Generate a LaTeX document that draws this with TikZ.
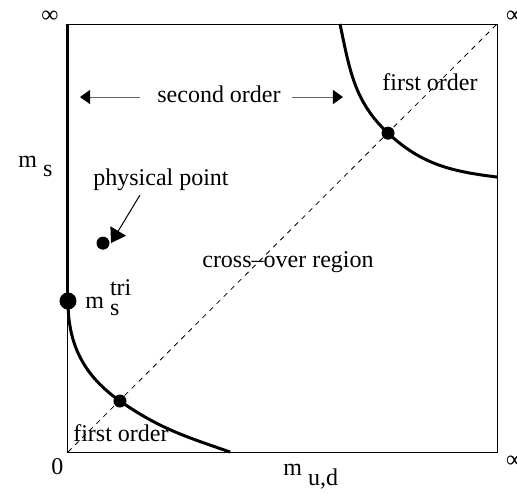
\documentclass[tikz,border=0pt]{standalone}
\usepackage{fontspec}
\setmainfont{Liberation Serif}
\usetikzlibrary{
  arrows.meta,
  positioning
}
\tikzset{
  txt/.style={
    font=\fontsize{12}{14}\selectfont,
    inner sep=0pt
  },
  bigdot/.style={
    circle,
    fill=black,
    inner sep=0pt,
    minimum size=8.5pt
  },
  dot/.style={
    circle,
    fill=black,
    inner sep=0pt,
    minimum size=6.5pt
  },
  boundary/.style={
    line width=1.5pt
  },
  frame/.style={
    line width=0.5pt
  },
  diag/.style={
    line width=0.4pt,
    dash pattern=on 2.5pt off 2.5pt
  },
  pointer/.style={
    -{Triangle[length=5pt,width=7pt,black]},
    line width=0.5pt,
    draw=black!60
  },
  bigpointer/.style={
    -{Triangle[length=7pt,width=9pt]},
    line width=0.5pt
  }
}

\begin{document}
\begin{tikzpicture}[x=214.5pt,y=214pt]
\useasboundingbox (-0.1585,-0.0958) rectangle (1.0466,1.0561);
\clip (-0.1585,-0.0958) rectangle (1.0466,1.0561);

\coordinate (O) at (0,0);
\coordinate (C) at (1,1);
\coordinate (lowEnd) at (0.378,0);
\coordinate (upStart) at (0.634,1);
\coordinate (upEnd) at (1,0.6425);

% frame and diagonal
\draw[frame] (O) rectangle (C);
\draw[diag] (O) -- (C);

% dots
\node[bigdot] (tri) at (0,0.3528) {};
\node[dot] (lowX) at (0.1212,0.1192) {};
\node[dot] (upX) at (0.746,0.745) {};
\node[dot] (phys) at (0.0816,0.488) {};

% phase boundaries
\draw[boundary] (0,1) -- (tri.center);
\draw[boundary] (tri.center) to[out=-90,in=145] (lowX.center)
  to[out=-35,in=161] (lowEnd);
\draw[boundary] (upStart) to[out=-78,in=137] (upX.center)
  to[out=-43,in=173] (upEnd);

% labels
\node[txt] (infTL) at (-0.042,1.0175) {∞};
\node[txt] (infTR) at (1.041,1.0175) {∞};
\node[txt] (infBR) at (1.041,-0.023) {∞};
\node[txt] (zero) at (-0.0245,-0.034) {0};
\node[txt, anchor=base west] (ms) at (-0.1166,0.6636) {m \raisebox{-4.5pt}{s}};
\node[txt, anchor=base west] (mud) at (0.5012,-0.0537) {m \raisebox{-5pt}{u,d}};
\node[txt, anchor=base west] (mstri) at (0.0396,0.3364)
  {m \rlap{\raisebox{-3.5pt}{s}}\raisebox{6.5pt}{tri}};
\node[txt, anchor=base] (second) at (0.352,0.8178) {second order};
\node[txt, anchor=base] (firstUp) at (0.8438,0.8458) {first order};
\node[txt, anchor=base] (firstLow) at (0.1235,0.0257) {first order};
\node[txt, anchor=base] (physlabel) at (0.2168,0.6238) {physical point};
\node[txt, anchor=base] (cross) at (0.5128,0.4322) {cross--over region};

% arrows
\coordinate (soLs) at (0.168,0.8294);
\coordinate (soL) at (0.028,0.8294);
\coordinate (soRs) at (0.522,0.8294);
\coordinate (soR) at (0.641,0.8294);
\coordinate (physS) at (0.1678,0.6005);
\coordinate (physT) at (0.1002,0.4883);
\draw[pointer] (soLs) -- (soL);
\draw[pointer] (soRs) -- (soR);
\draw[bigpointer] (physS) -- (physT);
\end{tikzpicture}
\end{document}
